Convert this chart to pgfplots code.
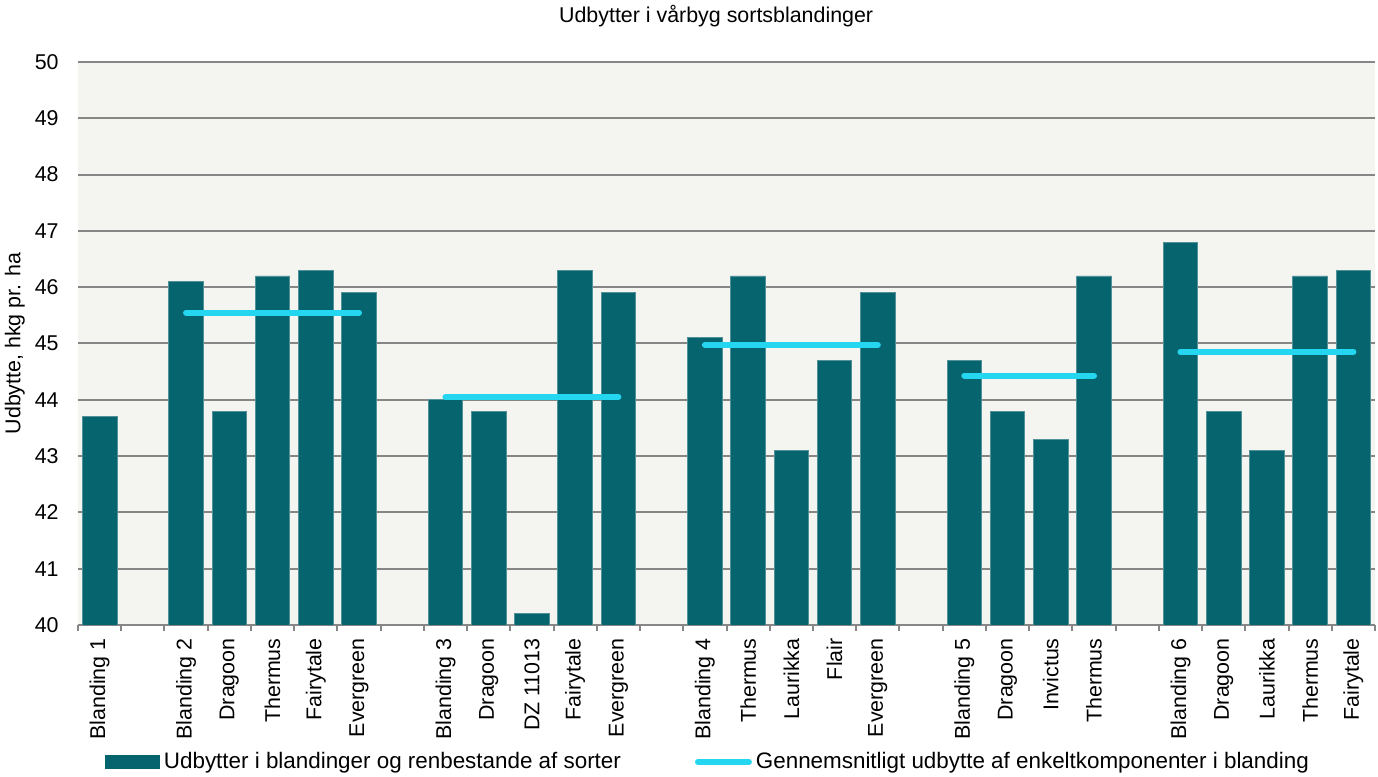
\documentclass[border=0pt]{standalone}
\usepackage{fontspec}
\setmainfont{Liberation Sans}
\usepackage{pgfplots}
\pgfplotsset{compat=1.18}

\definecolor{barteal}{RGB}{6,100,110}
\definecolor{avgcyan}{RGB}{36,214,240}
\definecolor{plotbg}{RGB}{244,244,240}
\definecolor{gridgray}{RGB}{134,134,134}
\newcommand\cf{\fontsize{10.7}{12.8}\selectfont}
\newcommand\lf{\fontsize{11.2}{13.4}\selectfont}

\begin{document}
\begin{tikzpicture}
\begin{axis}[
    width=648.5pt, height=281.5pt, scale only axis,
    xmin=-0.5, xmax=29.5, ymin=40, ymax=50,
    axis background/.style={fill=plotbg},
    separate axis lines,
    x axis line style={gridgray, line width=1pt},
    y axis line style={draw=none},
    ytick={40,...,50},
    ymajorgrids, grid style={gridgray, line width=1pt},
    xtick={0,2,3,4,5,6,8,9,10,11,12,14,15,16,17,18,20,21,22,23,25,26,27,28,29},
    xticklabels={Blanding 1,Blanding 2,Dragoon,Thermus,Fairytale,Evergreen,
      Blanding 3,Dragoon,DZ 11013,Fairytale,Evergreen,
      Blanding 4,Thermus,Laurikka,Flair,Evergreen,
      Blanding 5,Dragoon,Invictus,Thermus,
      Blanding 6,Dragoon,Laurikka,Thermus,Fairytale},
    minor xtick={-0.5,0.5,...,29.5},
    major tick length=0pt, minor tick length=3pt, tick align=outside,
    minor tick style={gridgray, line width=1pt},
    xtick pos=bottom, ytick pos=left,
    ytick style={draw=none},
    /pgf/number format/assume math mode=true,
    xticklabel style={rotate=90, anchor=east, inner sep=0pt, font=\cf},
    xticklabel shift=6.5pt,
    yticklabel style={inner sep=0pt, font=\cf},
    yticklabel shift=9.5pt,
    ylabel={Udbytte, hkg pr. ha},
    ylabel style={at={(axis description cs:-0.0486,0.5)}, anchor=center, font=\cf},
    title={Udbytter i vårbyg sortsblandinger},
    title style={at={(axis description cs:0.492,1.0605)}, anchor=center, font=\cf},
    legend style={at={(axis description cs:0.4865,-0.2433)}, anchor=center,
      draw=none, fill=none, font=\lf, legend columns=2,
      /tikz/every even column/.append style={column sep=35pt}},
    legend cell align=left,
]
\addplot[ybar, bar width=0.8, fill=barteal, draw=barteal!70!white, line width=0.4pt,
  legend image code/.code={\fill[barteal] (0pt,-3.2pt) rectangle (27pt,3.2pt);}]
coordinates {
  (0,43.7)
  (2,46.1) (3,43.8) (4,46.2) (5,46.3) (6,45.9)
  (8,44.0) (9,43.8) (10,40.2) (11,46.3) (12,45.9)
  (14,45.1) (15,46.2) (16,43.1) (17,44.7) (18,45.9)
  (20,44.7) (21,43.8) (22,43.3) (23,46.2)
  (25,46.8) (26,43.8) (27,43.1) (28,46.2) (29,46.3)
};
\addlegendentry{Udbytter i blandinger og renbestande af sorter}
\addplot[avgcyan, line width=3pt, line cap=round,
  legend image code/.code={\draw[avgcyan, line width=3pt, line cap=round] (1.5pt,0pt) -- (27pt,0pt);}]
  coordinates {(2,45.55) (6,45.55)};
\addlegendentry{Gennemsnitligt udbytte af enkeltkomponenter i blanding}
\addplot[avgcyan, line width=3pt, line cap=round, forget plot] coordinates {(8,44.05) (12,44.05)};
\addplot[avgcyan, line width=3pt, line cap=round, forget plot] coordinates {(14,44.975) (18,44.975)};
\addplot[avgcyan, line width=3pt, line cap=round, forget plot] coordinates {(20,44.43) (23,44.43)};
\addplot[avgcyan, line width=3pt, line cap=round, forget plot] coordinates {(25,44.85) (29,44.85)};
\coordinate (bbsw) at (rel axis cs:-0.06014,-0.26998);
\coordinate (bbne) at (rel axis cs:1.00231,1.1101);
\end{axis}
\pgfresetboundingbox
\path (bbsw) rectangle (bbne);
\end{tikzpicture}
\end{document}
